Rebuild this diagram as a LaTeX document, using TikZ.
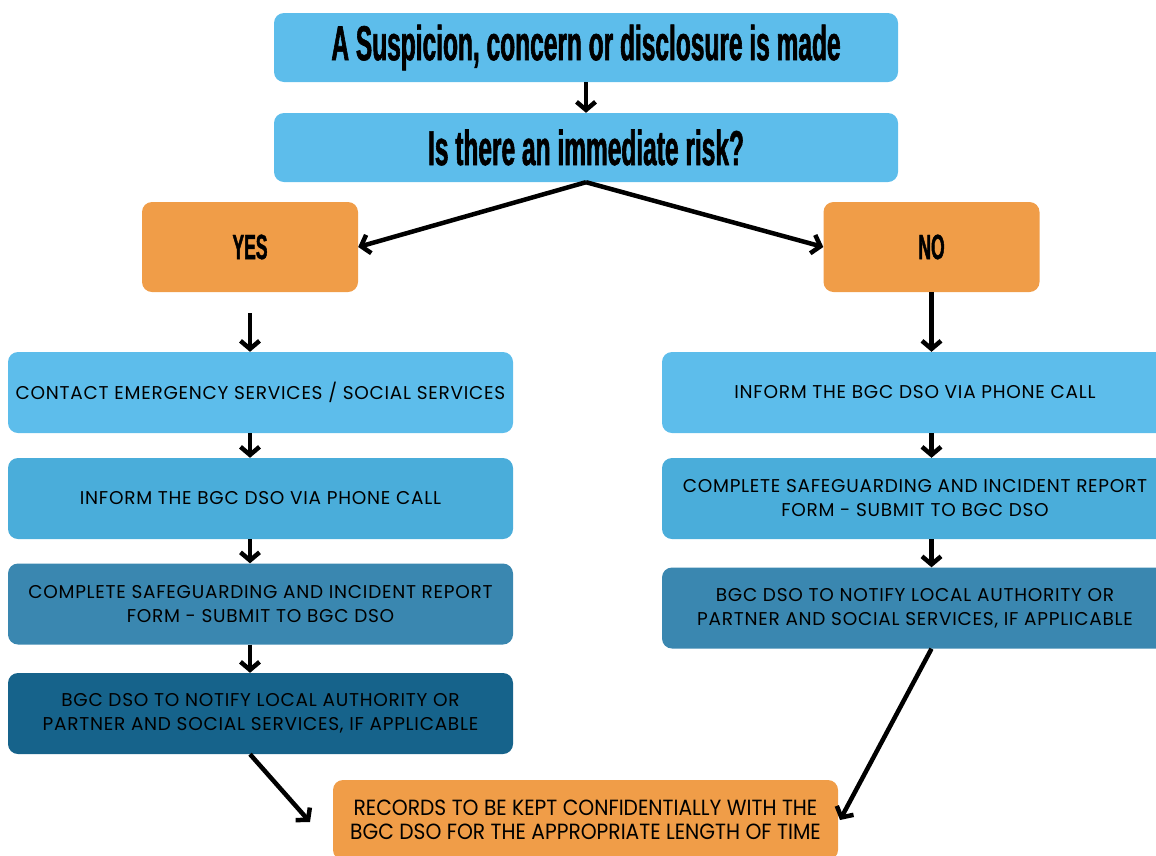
\documentclass[tikz,border=0pt]{standalone}
\usepackage{fontspec}
\setmainfont{Poppins}[LetterSpace=4]
\newfontfamily\headfont[FakeStretch=0.5,FakeBold=1.2]{Liberation Sans}
\newfontfamily\narrowfont[FakeStretch=0.92]{Poppins}
\usetikzlibrary{arrows.meta}

\definecolor{skyblue}{HTML}{5DBDEB}
\definecolor{midblue}{HTML}{4AADDA}
\definecolor{steelblue}{HTML}{3A87B0}
\definecolor{deepblue}{HTML}{16638B}
\definecolor{tangerine}{HTML}{F09D48}

\tikzset{
  box/.style={rounded corners=10pt, inner sep=0pt, align=center, text=black},
  headbox/.style={box, fill=skyblue, minimum width=624pt, minimum height=69pt,
    font=\headfont\bfseries\fontsize{49}{52}\selectfont},
  choicebox/.style={box, fill=tangerine, minimum width=216pt, minimum height=90pt,
    font=\headfont\bfseries\fontsize{35}{40}\selectfont},
  stepbox/.style={box, minimum width=505pt, minimum height=81pt,
    font=\fontsize{18.5}{24}\selectfont},
  recordbox/.style={box, fill=tangerine, minimum width=505pt, minimum height=80pt,
    font=\narrowfont\fontsize{22}{24}\selectfont},
  arr/.style={-{Straight Barb[length=8pt,width=19pt]}, line width=4.5pt},
}

\begin{document}
\begin{tikzpicture}[x=1pt, y=-1pt]
    \useasboundingbox (0,0) rectangle (1156,855);
    \clip (0,0) rectangle (1156,855);

    % question
    \node[headbox] (susp) at (586,47.5) {A Suspicion, concern or disclosure is made};
    \node[headbox] (risk) at (586,147.5) {Is there an immediate risk?};

    \node[choicebox] (yes) at (250,247) {YES};
    \node[choicebox] (no) at (931.5,247) {NO};

    % yes branch
    \node[stepbox, fill=skyblue] (ycall) at (260.5,392.5) {CONTACT EMERGENCY SERVICES / SOCIAL SERVICES};
    \node[stepbox, fill=midblue] (yinf) at (260.5,498.5) {INFORM THE BGC DSO VIA PHONE CALL};
    \node[stepbox, fill=steelblue] (yform) at (260.5,604) {COMPLETE SAFEGUARDING AND INCIDENT REPORT\\FORM - SUBMIT TO BGC DSO};
    \node[stepbox, fill=deepblue] (ynotify) at (260.5,713.5) {BGC DSO TO NOTIFY LOCAL AUTHORITY OR\\PARTNER AND SOCIAL SERVICES, IF APPLICABLE};

    % no branch
    \node[stepbox, fill=skyblue, minimum width=506pt] (ninf) at (915,392.5) {INFORM THE BGC DSO VIA PHONE CALL};
    \node[stepbox, fill=midblue, minimum width=506pt] (nform) at (915,498.5) {COMPLETE SAFEGUARDING AND INCIDENT REPORT\\FORM - SUBMIT TO BGC DSO};
    \node[stepbox, fill=steelblue, minimum width=506pt] (nnotify) at (915,608) {BGC DSO TO NOTIFY LOCAL AUTHORITY OR\\PARTNER AND SOCIAL SERVICES, IF APPLICABLE};

    \node[recordbox] (rec) at (585.5,820) {RECORDS TO BE KEPT CONFIDENTIALLY WITH THE\\BGC DSO FOR THE APPROPRIATE LENGTH OF TIME};

    \coordinate (recL) at (310,822);
    \coordinate (recR) at (840,820);

    \draw[arr] (susp) -- (risk);
    \draw[arr] (risk.south) -- (yes.east);
    \draw[arr] (risk.south) -- (no.west);

    \draw[arr, shorten <=21pt] (yes) -- (yes |- ycall.north);
    \foreach \a/\b in {ycall/yinf, yinf/yform, yform/ynotify}
      \draw[arr] (\a.south -| yes) -- (\b.north -| yes);

    \draw[arr] (no) -- (no |- ninf.north);
    \foreach \a/\b in {ninf/nform, nform/nnotify}
      \draw[arr] (\a.south -| no) -- (\b.north -| no);

    \draw[arr] (ynotify.south -| yes) -- (recL);
    \draw[arr] (nnotify.south -| no) -- (recR);
\end{tikzpicture}
\end{document}
